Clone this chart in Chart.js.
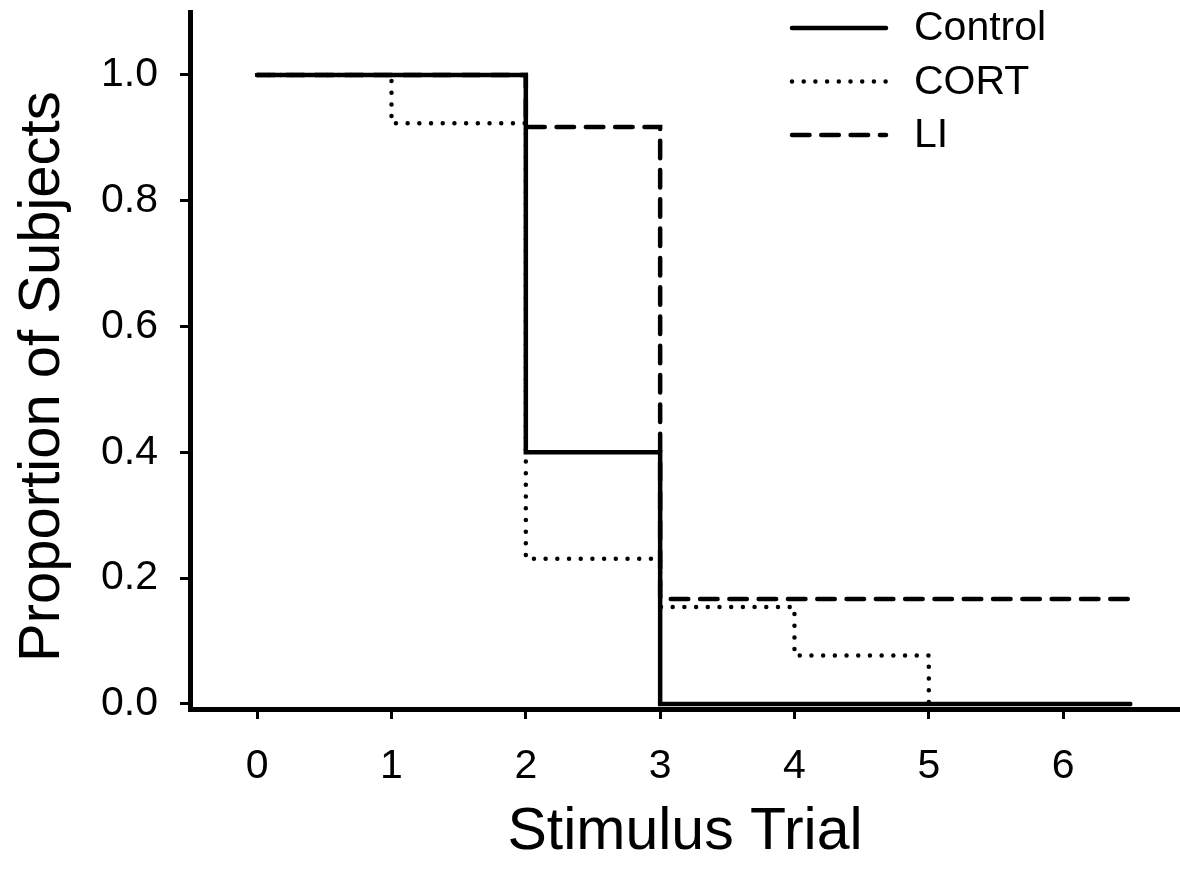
<!DOCTYPE html>
<html>
<head>
<meta charset="utf-8">
<script src="https://cdn.jsdelivr.net/npm/chart.js@4/dist/chart.umd.min.js"></script>
<style>
    html, body { margin: 0; padding: 0; background: #fff; }
    #wrap { width: 1180px; height: 869px; position: relative; }
</style>
</head>
<body>
<div id="wrap"><canvas id="chart"></canvas></div>
<script>
// Step data (proportion remaining per stimulus trial)
const controlTrials = [0, 2, 3, 6.5];
const controlValues = [1.0, 0.4, 0.0, 0.0];

const cortTrials = [0, 1, 2, 3, 4, 5];
const cortValues = [1.0, 0.923, 0.231, 0.154, 0.077, 0.0];

const liTrials = [0, 2, 3, 6.5];
const liValues = [1.0, 0.917, 0.167, 0.167];

const seriesNames = ['Control', 'CORT', 'LI'];
const xTicks = [0, 1, 2, 3, 4, 5, 6];
const yTicks = [0.0, 0.2, 0.4, 0.6, 0.8, 1.0];

const FONT = "'Liberation Sans', Arial, Helvetica, sans-serif";

function toPoints(xs, ys) {
    return xs.map((x, i) => ({ x: x, y: ys[i] }));
}

// Legend drawn in the top-right corner as short line samples
const lineLegend = {
    id: 'lineLegend',
    afterDraw(chart) {
        const ctx = chart.ctx;
        chart.data.datasets.forEach((ds, i) => {
            const y = 28 + i * 53.5;
            ctx.save();
            ctx.strokeStyle = ds.borderColor;
            ctx.lineWidth = ds.borderWidth;
            ctx.lineCap = ds.borderCapStyle;
            ctx.setLineDash(ds.borderDash || []);
            ctx.beginPath();
            ctx.moveTo(792, y);
            ctx.lineTo(886, y);
            ctx.stroke();
            ctx.setLineDash([]);
            ctx.fillStyle = '#000';
            ctx.font = '41px ' + FONT;
            ctx.textBaseline = 'middle';
            ctx.textAlign = 'left';
            ctx.fillText(ds.label, 914, y + 1);
            ctx.restore();
        });
    }
};

const ctx = document.getElementById('chart').getContext('2d');
new Chart(ctx, {
    type: 'line',
    data: {
        datasets: [
            {
                label: seriesNames[0],
                data: toPoints(controlTrials, controlValues),
                borderColor: '#000',
                borderWidth: 4.5,
                borderCapStyle: 'round',
                borderDash: [],
                stepped: 'before',
                pointRadius: 0,
                fill: false
            },
            {
                label: seriesNames[1],
                data: toPoints(cortTrials, cortValues),
                borderColor: '#000',
                borderWidth: 4.5,
                borderCapStyle: 'round',
                borderDash: [0, 11.7],
                stepped: 'before',
                pointRadius: 0,
                fill: false
            },
            {
                label: seriesNames[2],
                data: toPoints(liTrials, liValues),
                borderColor: '#000',
                borderWidth: 4.5,
                borderCapStyle: 'round',
                borderDash: [17.5, 11.8],
                stepped: 'before',
                pointRadius: 0,
                fill: false
            }
        ]
    },
    options: {
        responsive: true,
        maintainAspectRatio: false,
        animation: false,
        layout: { padding: { top: 12, left: 0, right: 0, bottom: 0 } },
        plugins: {
            legend: { display: false },
            tooltip: { enabled: false }
        },
        scales: {
            x: {
                type: 'linear',
                min: -0.5,
                max: 6.87,
                afterBuildTicks: scale => { scale.ticks = xTicks.map(v => ({ value: v })); },
                afterFit: scale => {
                    scale.height = 160;
                    scale.paddingLeft = 0;
                    scale.paddingRight = 0;
                },
                border: { display: true, color: '#000', width: 5 },
                grid: { drawOnChartArea: false, drawTicks: true, tickLength: 10, tickWidth: 3, tickColor: '#000' },
                ticks: { color: '#000', font: { family: FONT, size: 41 }, padding: 23, maxRotation: 0 },
                title: {
                    display: true,
                    text: 'Stimulus Trial',
                    color: '#000',
                    font: { family: FONT, size: 59 },
                    padding: { top: 0, bottom: 1 }
                }
            },
            y: {
                type: 'linear',
                min: -0.008,
                max: 1.1,
                afterBuildTicks: scale => { scale.ticks = yTicks.map(v => ({ value: v })); },
                afterFit: scale => {
                    scale.width = 190;
                    scale.paddingTop = 0;
                    scale.paddingBottom = 0;
                },
                border: { display: true, color: '#000', width: 5 },
                grid: { drawOnChartArea: false, drawTicks: true, tickLength: 10, tickWidth: 3, tickColor: '#000' },
                ticks: {
                    color: '#000',
                    font: { family: FONT, size: 41 },
                    padding: 22,
                    callback: v => Number(v).toFixed(1)
                },
                title: {
                    display: true,
                    // trailing spaces nudge the centred title toward the 0-1 range
                    text: 'Proportion of Subjects  ',
                    color: '#000',
                    font: { family: FONT, size: 58 },
                    padding: { top: 8, bottom: 0 }
                }
            }
        }
    },
    plugins: [lineLegend]
});
</script>
</body>
</html>
